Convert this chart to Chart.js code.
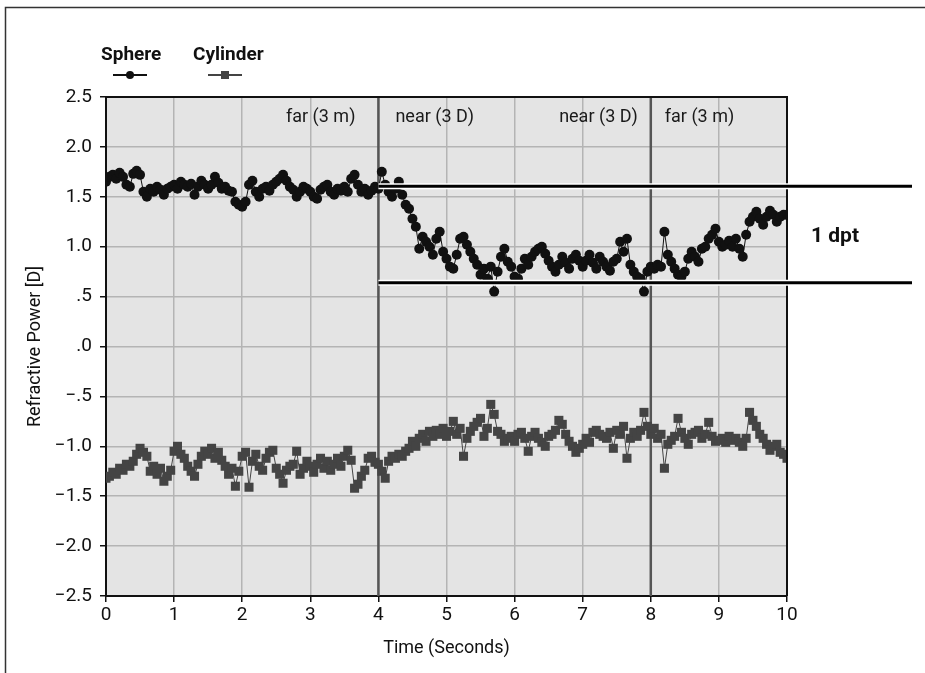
<!DOCTYPE html>
<html>
<head>
<meta charset="utf-8">
<script src="https://cdn.jsdelivr.net/npm/chart.js@4"></script>
<style>
  body { margin: 0; background: #fff; }
  #wrap { width: 925px; height: 673px; }
</style>
</head>
<body>
<div id="wrap"><canvas id="myChart" width="925" height="673"></canvas></div>
<script>
// samples are 0.05 s apart, from 0 to 10 s
const sampleStep = 0.05;

const sphere = [
  1.65, 1.70, 1.72, 1.68, 1.74, 1.70, 1.62, 1.60, 1.73, 1.76, 1.72, 1.55, 1.50, 1.58, 1.55, 1.60, 1.57, 1.52, 1.58, 1.60,
  1.62, 1.58, 1.65, 1.62, 1.60, 1.63, 1.52, 1.60, 1.66, 1.62, 1.58, 1.62, 1.70, 1.64, 1.58, 1.60, 1.56, 1.55, 1.45, 1.42,
  1.40, 1.45, 1.62, 1.66, 1.55, 1.50, 1.58, 1.60, 1.56, 1.62, 1.65, 1.68, 1.72, 1.66, 1.60, 1.57, 1.50, 1.55, 1.60, 1.58,
  1.55, 1.50, 1.48, 1.57, 1.60, 1.62, 1.55, 1.52, 1.58, 1.56, 1.60, 1.55, 1.68, 1.72, 1.62, 1.55, 1.58, 1.52, 1.56, 1.60,
  1.58, 1.75, 1.62, 1.55, 1.50, 1.58, 1.65, 1.52, 1.42, 1.38, 1.28, 1.20, 0.98, 1.10, 1.05, 1.00, 0.92, 1.08, 1.15, 0.95,
  0.88, 0.80, 0.78, 0.92, 1.08, 1.10, 1.02, 0.95, 0.88, 0.82, 0.72, 0.78, 0.68, 0.80, 0.55, 0.75, 0.90, 0.98, 0.85, 0.80,
  0.70, 0.68, 0.78, 0.88, 0.82, 0.90, 0.95, 0.98, 1.00, 0.93, 0.86, 0.80, 0.75, 0.82, 0.90, 0.84, 0.78, 0.88, 0.92, 0.86,
  0.80, 0.86, 0.92, 0.84, 0.78, 0.90, 0.85, 0.80, 0.76, 0.85, 0.88, 1.05, 0.95, 1.08, 0.82, 0.75, 0.70, 0.68, 0.55, 0.75,
  0.80, 0.78, 0.82, 0.80, 1.15, 0.92, 0.85, 0.78, 0.72, 0.70, 0.75, 0.88, 0.95, 0.90, 0.85, 0.98, 1.00, 1.08, 1.12, 1.18,
  1.05, 1.00, 1.02, 1.06, 1.00, 1.08, 0.98, 0.90, 1.12, 1.25, 1.30, 1.35, 1.28, 1.22, 1.30, 1.36, 1.32, 1.25, 1.30, 1.32,
  1.32
];

const cylinder = [
  -1.32, -1.30, -1.26, -1.28, -1.22, -1.24, -1.18, -1.20, -1.15, -1.08, -1.02, -1.06, -1.10, -1.25, -1.20, -1.28, -1.22, -1.35, -1.30, -1.24,
  -1.05, -1.00, -1.08, -1.12, -1.20, -1.25, -1.30, -1.18, -1.10, -1.05, -1.08, -1.02, -1.12, -1.06, -1.14, -1.20, -1.28, -1.22, -1.40, -1.25,
  -1.10, -1.06, -1.41, -1.15, -1.08, -1.20, -1.24, -1.12, -1.06, -1.04, -1.22, -1.28, -1.37, -1.24, -1.20, -1.18, -1.05, -1.28, -1.22, -1.15,
  -1.20, -1.26, -1.18, -1.12, -1.22, -1.15, -1.24, -1.18, -1.12, -1.20, -1.10, -1.04, -1.14, -1.42, -1.38, -1.30, -1.24, -1.12, -1.10, -1.16,
  -1.18, -1.25, -1.32, -1.15, -1.10, -1.12, -1.08, -1.10, -1.05, -1.02, -0.95, -1.00, -0.92, -0.88, -0.95, -0.85, -0.90, -0.84, -0.88, -0.82,
  -0.90, -0.85, -0.75, -0.88, -0.82, -1.10, -0.92, -0.85, -0.80, -0.76, -0.72, -0.90, -0.82, -0.58, -0.68, -0.85, -0.88, -0.95, -0.92, -0.90,
  -0.95, -0.88, -0.86, -0.92, -1.05, -0.90, -0.86, -0.92, -0.96, -1.00, -0.90, -0.88, -0.84, -0.74, -0.78, -0.88, -0.95, -1.00, -1.06, -1.02,
  -0.98, -0.92, -0.96, -0.86, -0.84, -0.88, -0.90, -0.92, -0.86, -1.02, -0.84, -0.88, -0.80, -1.12, -0.92, -0.86, -0.90, -0.84, -0.66, -0.80,
  -0.88, -0.82, -0.92, -0.88, -1.22, -0.98, -0.94, -0.90, -0.72, -0.86, -0.92, -0.98, -0.88, -0.86, -0.84, -0.92, -0.88, -0.76, -0.90, -0.95,
  -0.94, -0.92, -0.96, -0.90, -0.94, -0.92, -0.96, -1.00, -0.92, -0.66, -0.74, -0.80, -0.88, -0.92, -0.98, -1.04, -1.00, -0.98, -1.06, -1.08,
  -1.12
];

const yTickValues = [2.5, 2.0, 1.5, 1.0, 0.5, 0.0, -0.5, -1.0, -1.5, -2.0, -2.5];
const yTickLabels = ['2.5', '2.0', '1.5', '1.0', '.5', '.0', '\u2212.5', '\u22121.0', '\u22121.5', '\u22122.0', '\u22122.5'];

const phaseLines = [4, 8];
const phaseLabels = ['far (3 m)', 'near (3 D)', 'near (3 D)', 'far (3 m)'];
const dptLines = [1.605, 0.64];
const dptLabel = '1 dpt';

const FONT = 'Roboto, "Open Sans", sans-serif';

function toPoints(values) {
  return values.map((v, i) => ({ x: +(i * sampleStep).toFixed(2), y: v }));
}

const decor = {
  id: 'decor',
  beforeDraw(chart) {
    const { ctx, chartArea: a } = chart;
    ctx.save();
    ctx.fillStyle = '#fff';
    ctx.fillRect(0, 0, chart.width, chart.height);
    ctx.fillStyle = '#e4e4e4';
    ctx.fillRect(a.left, a.top, a.right - a.left, a.bottom - a.top);
    // outer frame (top and left)
    ctx.strokeStyle = '#333';
    ctx.lineWidth = 1.5;
    ctx.beginPath();
    ctx.moveTo(5.5, chart.height);
    ctx.lineTo(5.5, 7.5);
    ctx.lineTo(chart.width, 7.5);
    ctx.stroke();
    ctx.restore();
  },
  beforeDatasetsDraw(chart) {
    const { ctx, chartArea: a, scales } = chart;
    const x = scales.x;
    ctx.save();
    ctx.strokeStyle = '#555';
    ctx.lineWidth = 2.5;
    phaseLines.forEach((t) => {
      const px = x.getPixelForValue(t);
      ctx.beginPath();
      ctx.moveTo(px, a.top);
      ctx.lineTo(px, a.bottom);
      ctx.stroke();
    });
    ctx.fillStyle = '#1a1a1a';
    ctx.font = '18px ' + FONT;
    ctx.textBaseline = 'middle';
    const p1 = x.getPixelForValue(phaseLines[0]);
    const p2 = x.getPixelForValue(phaseLines[1]);
    const ty = a.top + 20;
    ctx.textAlign = 'right';
    ctx.fillText(phaseLabels[0], p1 - 23, ty);
    ctx.textAlign = 'left';
    ctx.fillText(phaseLabels[1], p1 + 17, ty);
    ctx.textAlign = 'right';
    ctx.fillText(phaseLabels[2], p2 - 13, ty);
    ctx.textAlign = 'left';
    ctx.fillText(phaseLabels[3], p2 + 14, ty);
    ctx.restore();
  },
  afterDatasetsDraw(chart) {
    const { ctx, chartArea: a, scales } = chart;
    const x = scales.x, y = scales.y;
    ctx.save();
    // top and right border of the plot
    ctx.strokeStyle = '#111';
    ctx.lineWidth = 2;
    ctx.beginPath();
    ctx.moveTo(a.left, a.top);
    ctx.lineTo(a.right, a.top);
    ctx.lineTo(a.right, a.bottom);
    ctx.stroke();
    // 1 dpt bracket lines
    const x0 = x.getPixelForValue(phaseLines[0]);
    const x1 = 912;
    dptLines.forEach((v) => {
      const py = y.getPixelForValue(v);
      ctx.strokeStyle = '#fff';
      ctx.lineWidth = 6;
      ctx.beginPath();
      ctx.moveTo(x0, py);
      ctx.lineTo(x1, py);
      ctx.stroke();
      ctx.strokeStyle = '#000';
      ctx.lineWidth = 3;
      ctx.beginPath();
      ctx.moveTo(x0, py);
      ctx.lineTo(x1, py);
      ctx.stroke();
    });
    ctx.fillStyle = '#111';
    ctx.font = 'bold 21px ' + FONT;
    ctx.textAlign = 'left';
    ctx.textBaseline = 'middle';
    const mid = (y.getPixelForValue(dptLines[0]) + y.getPixelForValue(dptLines[1])) / 2;
    ctx.fillText(dptLabel, 811, mid + 2);
    // legend
    const items = chart.data.datasets;
    const lx = [101, 193];
    ctx.font = 'bold 19px ' + FONT;
    items.forEach((ds, i) => {
      ctx.fillStyle = '#111';
      ctx.textAlign = 'left';
      ctx.fillText(ds.label, lx[i], 55);
      const cx = lx[i] + (i === 0 ? 29 : 32);
      ctx.strokeStyle = ds.borderColor;
      ctx.lineWidth = 2;
      ctx.beginPath();
      ctx.moveTo(cx - 17, 75);
      ctx.lineTo(cx + 17, 75);
      ctx.stroke();
      ctx.fillStyle = ds.backgroundColor;
      if (ds.pointStyle === 'rect') {
        ctx.fillRect(cx - 4, 71, 8, 8);
      } else {
        ctx.beginPath();
        ctx.arc(cx, 75, 4, 0, Math.PI * 2);
        ctx.fill();
      }
    });
    ctx.restore();
  },
};

const config = {
  type: 'scatter',
  data: {
    datasets: [
      {
        label: 'Sphere',
        data: toPoints(sphere),
        showLine: true,
        borderColor: '#111',
        backgroundColor: '#111',
        borderWidth: 1,
        pointRadius: 5,
        pointBorderWidth: 0,
        pointStyle: 'circle',
      },
      {
        label: 'Cylinder',
        data: toPoints(cylinder),
        showLine: true,
        borderColor: '#444',
        backgroundColor: '#444',
        borderWidth: 1,
        pointRadius: 6.4,
        pointBorderWidth: 0,
        pointStyle: 'rect',
      },
    ],
  },
  options: {
    responsive: false,
    animation: false,
    devicePixelRatio: 1,
    layout: { padding: { left: 0, right: 138, top: 97, bottom: 0 } },
    plugins: { legend: { display: false }, tooltip: { enabled: false } },
    scales: {
      x: {
        type: 'linear',
        min: 0,
        max: 10,
        afterFit(s) { s.height = 77; },
        ticks: { stepSize: 1, color: '#111', font: { family: FONT, size: 19 }, padding: 2 },
        grid: { color: '#b4b4b4', lineWidth: 1.5, tickColor: '#111', tickLength: 6 },
        border: { color: '#111', width: 2 },
        title: { display: true, text: 'Time (Seconds)', color: '#111', font: { family: FONT, size: 18 }, padding: { top: 0, bottom: 14 } },
      },
      y: {
        type: 'linear',
        min: -2.5,
        max: 2.5,
        afterFit(s) { s.width = 106; },
        afterBuildTicks(s) { s.ticks = yTickValues.map((v) => ({ value: v })); },
        ticks: {
          color: '#111',
          font: { family: FONT, size: 19 },
          padding: 8,
          callback: (v) => {
            const i = yTickValues.findIndex((t) => Math.abs(t - v) < 1e-6);
            return i >= 0 ? yTickLabels[i] : '';
          },
        },
        grid: { color: '#b4b4b4', lineWidth: 1.5, tickColor: '#111', tickLength: 6 },
        border: { color: '#111', width: 2 },
        title: { display: true, text: 'Refractive Power [D]', color: '#111', font: { family: FONT, size: 18 }, padding: { top: 25, bottom: 0 } },
      },
    },
  },
  plugins: [decor],
};

const myChart = new Chart(document.getElementById('myChart'), config);
</script>
</body>
</html>
